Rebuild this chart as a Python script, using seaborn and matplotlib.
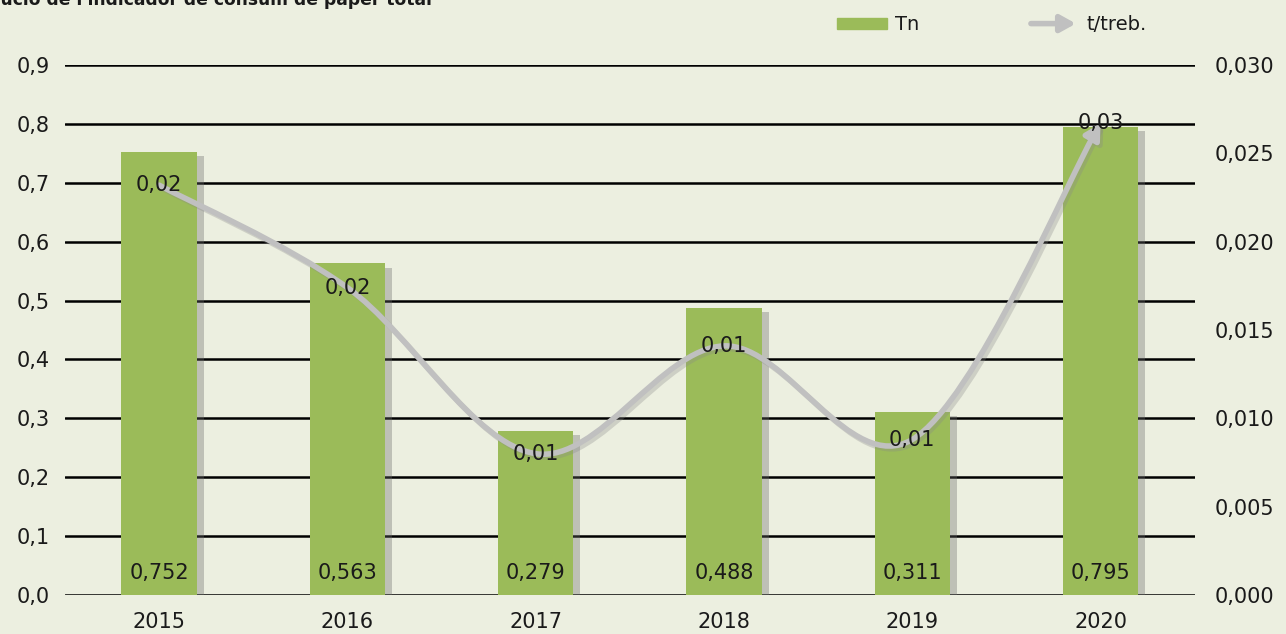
import matplotlib
matplotlib.use("Agg")
import matplotlib.pyplot as plt
import matplotlib.patheffects as pe
import matplotlib.transforms as mtransforms
from matplotlib.patches import FancyArrowPatch, Patch
from matplotlib.path import Path
from matplotlib.legend_handler import HandlerPatch
import seaborn as sns
import numpy as np

# Data
years = ["2015", "2016", "2017", "2018", "2019", "2020"]
tn = [0.752, 0.563, 0.279, 0.488, 0.311, 0.795]
t_treb = [0.0232, 0.0174, 0.0080, 0.0141, 0.0088, 0.0267]
left_ticks = [0.0, 0.1, 0.2, 0.3, 0.4, 0.5, 0.6, 0.7, 0.8, 0.9]
right_ticks = [0.000, 0.005, 0.010, 0.015, 0.020, 0.025, 0.030]
title = "Evolució de l'indicador de consum de paper total"

bg = "#ECEFE0"
bar_color = "#9BBB59"
line_color = "#C0C0C0"
arrow_style = "-|>,head_length=0.45,head_width=0.25"

sns.set_style("white", {"axes.facecolor": bg, "figure.facecolor": bg})
plt.rcParams["font.family"] = ["DejaVu Sans"]
plt.rcParams["text.color"] = "#1a1a1a"

fig = plt.figure(figsize=(12.86, 6.34), dpi=100)
ax = fig.add_axes([0.0505, 0.0615, 0.8785, 0.836])

# Bars
sns.barplot(x=years, y=tn, color=bar_color, width=0.4, saturation=1, ax=ax,
            zorder=3, edgecolor=bar_color, linewidth=0)
for p in ax.patches:
    p.set_path_effects([pe.SimplePatchShadow(offset=(5, -3), shadow_rgbFace="#6a6a6a", alpha=0.35),
                        pe.Normal()])

ax.set_xlim(-0.5, len(years) - 0.5)
ax.set_ylim(0, 0.9)
ax.set_yticks(left_ticks)
ax.set_yticklabels([f"{v:.1f}".replace(".", ",") for v in left_ticks])
ax.yaxis.grid(True, color="black", lw=1.8, zorder=0)
ax.set_axisbelow(True)
ax.set_xlabel("")
ax.set_ylabel("")
for s in ax.spines.values():
    s.set_visible(False)
ax.tick_params(axis="both", length=0, labelsize=15, colors="#1a1a1a")
ax.tick_params(axis="y", pad=11)
ax.tick_params(axis="x", pad=12)

for i, v in enumerate(tn):
    ax.annotate(f"{v:.3f}".replace(".", ","), xy=(i, 0), xytext=(0, 16),
                textcoords="offset points", ha="center", va="center",
                fontsize=15, zorder=5)

# Secondary axis
ax2 = ax.twinx()
ax2.set_ylim(0, 0.030)
ax2.set_yticks(right_ticks)
ax2.set_yticklabels([f"{v:.3f}".replace(".", ",") for v in right_ticks])
for s in ax2.spines.values():
    s.set_visible(False)
ax2.tick_params(axis="y", length=0, labelsize=15, pad=14, colors="#1a1a1a")

# Smoothed line (Catmull-Rom -> Bezier) with arrow head
pts = np.column_stack([np.arange(len(t_treb)), t_treb]).astype(float)
ext = np.vstack([pts[0], pts, pts[-1]])
verts = [pts[0]]
codes = [Path.MOVETO]
for k in range(len(pts) - 1):
    p0, p1, p2, p3 = ext[k], ext[k + 1], ext[k + 2], ext[k + 3]
    c1 = p1 + (p2 - p0) / 6
    c2 = p2 - (p3 - p1) / 6
    verts += [c1, c2, p2]
    codes += [Path.CURVE4] * 3
curve_path = Path(verts, codes)

shadow_tr = ax2.transData + mtransforms.ScaledTranslation(2 / 72, -2 / 72, fig.dpi_scale_trans)
shadow = FancyArrowPatch(path=curve_path, arrowstyle=arrow_style, mutation_scale=20,
                         color="#888888", alpha=0.3, lw=4, transform=shadow_tr, zorder=4)
ax2.add_patch(shadow)
curve = FancyArrowPatch(path=curve_path, arrowstyle=arrow_style, mutation_scale=20,
                        color=line_color, lw=4, transform=ax2.transData, zorder=4)
ax2.add_patch(curve)

for i, v in enumerate(t_treb):
    ax2.annotate(f"{v:.2f}".replace(".", ","), xy=(i, v), xytext=(0, 0),
                 textcoords="offset points", ha="center", va="center",
                 fontsize=15, zorder=6)


# Legend
def make_arrow(legend, orig_handle, xdescent, ydescent, width, height, fontsize):
    y = -ydescent + height / 2
    return FancyArrowPatch((-xdescent, y), (-xdescent + width, y),
                           arrowstyle=arrow_style, mutation_scale=20)


handles = [Patch(color=bar_color),
           Patch(facecolor=line_color, edgecolor=line_color, lw=4)]
fig.legend(handles, ["Tn", "t/treb."], loc="center left",
           bbox_to_anchor=(0.637, 0.9606), ncol=2, frameon=False, fontsize=14,
           handlelength=2.6, handleheight=0.55, handletextpad=0.4, columnspacing=5.6,
           handler_map={handles[1]: HandlerPatch(patch_func=make_arrow)})

# Title, cropped at the top-left like the source
renderer = fig.canvas.get_renderer()
tmp = fig.text(0, 0, "Evol", fontsize=12.3, weight="bold")
w = tmp.get_window_extent(renderer).width
tmp.remove()
fig.text(-w / fig.bbox.width, 1 - 5 / 634, title, fontsize=12.3, weight="bold",
         va="baseline", ha="left")

fig.savefig("out.png", dpi=100, facecolor=bg)
